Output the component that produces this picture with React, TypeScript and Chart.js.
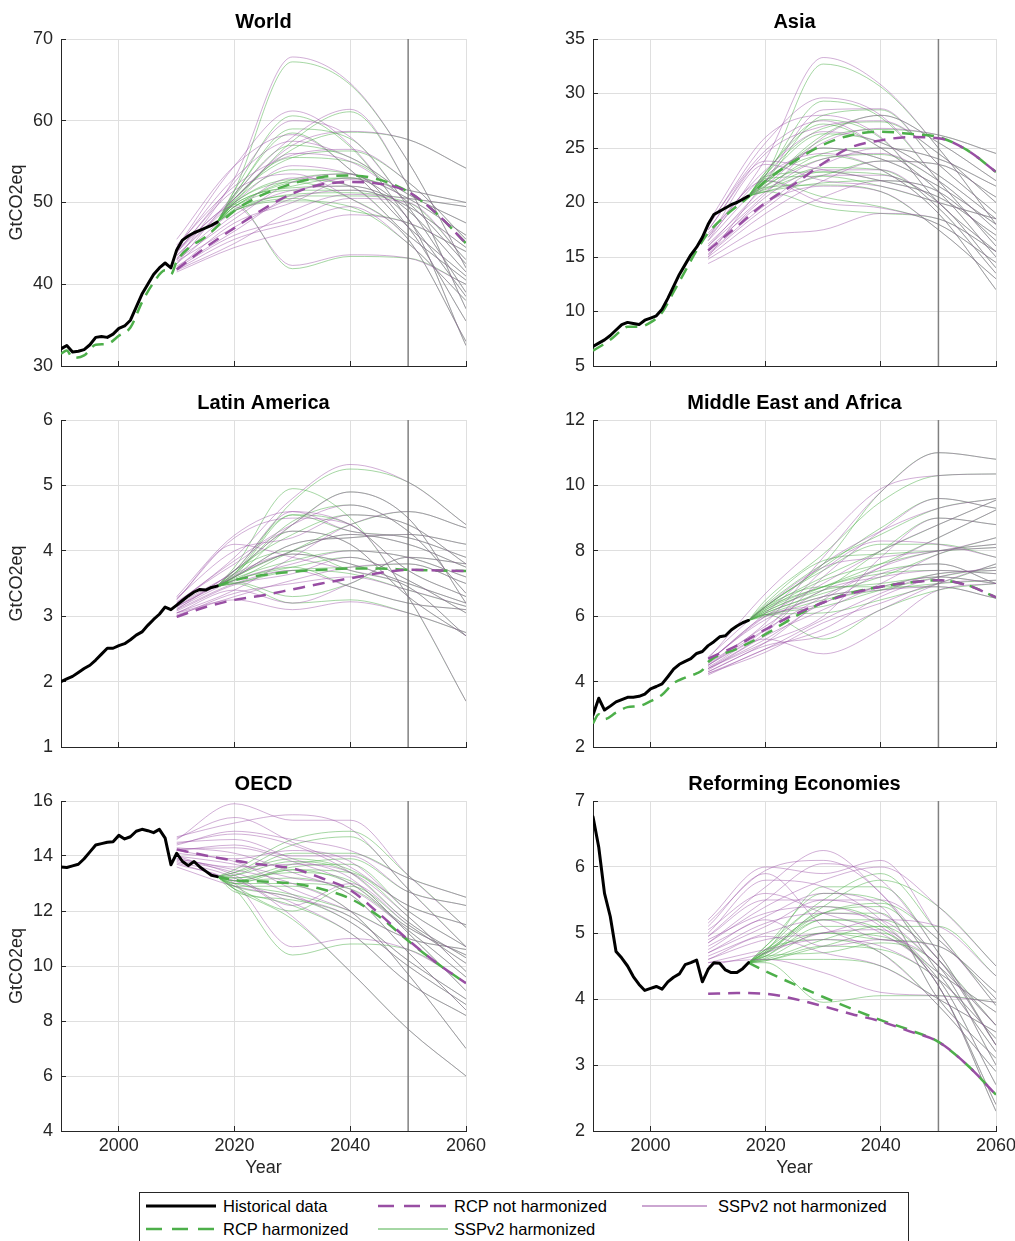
import React, { useEffect, useRef } from "react";
import { Chart, registerables } from "chart.js";

Chart.register(...registerables);

const FONT = '"Liberation Sans", Arial, Helvetica, sans-serif';
const PURPLE = "#984ea3";
const GREEN = "#4daf4a";
const PURPLE_T = "rgba(152,78,163,0.45)";
const GREEN_T = "rgba(77,175,74,0.5)";
const AXIS = "#262626";
const GRID = "#dfdfdf";
const VLINE = "#808080";

// ---------- shared axes ----------
const histYears = [1990, 1991, 1992, 1993, 1994, 1995, 1996, 1997, 1998, 1999, 2000, 2001, 2002, 2003, 2004, 2005, 2006, 2007, 2008, 2009, 2010, 2011, 2012, 2013, 2014, 2015, 2016, 2017];
const rcpRawYears = [2010, 2015, 2020, 2025, 2030, 2035, 2040, 2045, 2050, 2055, 2060];
const sspRawYears = [2010, 2020, 2030, 2040, 2050, 2060];
const sspHarmYears = [2017, 2020, 2030, 2040, 2050, 2060];
const xTicks = [2000, 2020, 2040, 2060];
const xMin = 1990;
const xMax = 2060;
const markerYear = 2050;

// ---------- World ----------
const worldTicks = [30, 40, 50, 60, 70];
const worldHist = [32.1, 32.5, 31.7, 31.8, 32.0, 32.6, 33.5, 33.6, 33.5, 33.9, 34.6, 34.9, 35.6, 37.2, 38.8, 40.0, 41.2, 42.0, 42.6, 42.0, 44.2, 45.4, 45.9, 46.3, 46.6, 46.9, 47.2, 47.6];
const worldRcpHarmYears = [1990, 1991, 1992, 1994, 1996, 1998, 2000, 2002, 2004, 2006, 2008, 2009, 2010, 2012, 2015, 2020, 2025, 2030, 2035, 2040, 2045, 2050, 2055, 2060];
const worldRcpHarm = [31.5, 31.9, 31.0, 31.3, 32.6, 32.7, 33.7, 34.7, 37.8, 40.2, 41.7, 41.2, 42.8, 44.4, 45.8, 49.0, 51.0, 52.3, 53.1, 53.3, 52.8, 51.3, 48.6, 45.0];
const worldRcpRaw = [41.8, 44.5, 46.9, 49.2, 51.1, 52.2, 52.5, 52.3, 51.3, 48.6, 45.0];
const worldSspRaw = [
  [43.0, 53.0, 67.8, 64.6, 55.0, 42.0],
  [44.0, 49.5, 42.3, 43.6, 43.2, 40.0],
  [44.5, 54.5, 61.2, 57.0, 48.0, 38.5],
  [42.5, 51.0, 58.0, 61.4, 52.0, 37.0],
  [43.5, 50.5, 57.0, 58.7, 57.7, 54.2],
  [45.5, 54.5, 58.3, 54.0, 47.0, 41.0],
  [42.0, 47.5, 50.0, 52.8, 51.5, 50.0],
  [41.7, 45.0, 49.0, 51.0, 50.5, 49.5],
  [44.8, 52.0, 55.8, 56.5, 52.5, 45.5],
  [43.0, 48.0, 52.5, 53.5, 47.0, 35.5],
  [42.2, 46.5, 51.0, 53.0, 49.0, 41.5],
  [44.0, 51.5, 53.5, 50.5, 45.5, 33.0],
  [43.2, 49.0, 53.0, 52.0, 46.0, 40.5],
  [41.5, 44.5, 46.5, 48.5, 47.5, 44.0],
  [44.2, 50.5, 56.0, 55.0, 50.0, 42.5],
  [42.8, 47.0, 50.5, 51.5, 48.0, 32.5],
  [43.8, 52.5, 60.0, 58.0, 49.5, 39.0],
  [42.0, 46.0, 48.0, 50.5, 50.0, 43.0],
  [43.5, 50.0, 54.5, 53.5, 50.5, 46.0],
  [42.5, 48.5, 51.5, 52.0, 49.5, 44.5],
  [44.5, 53.0, 57.5, 55.5, 51.0, 47.5],
  [41.8, 45.5, 47.5, 49.5, 45.0, 38.0],
];
const worldSspHarm = [
  [51.5, 67.2, 64.4],
  [49.8, 41.9, 43.4],
  [51.5, 60.6, 56.8],
  [50.0, 57.5, 61.1],
  [50.3, 56.5, 58.6],
  [51.0, 58.5, 54.0],
  [49.8, 52.0, 53.0],
  [49.0, 51.0, 51.2],
  [50.5, 55.5, 56.3],
  [49.5, 52.8, 53.5],
  [49.5, 52.5, 53.0],
  [50.0, 52.5, 50.5],
  [50.0, 52.8, 52.0],
  [49.0, 50.5, 49.0],
  [50.5, 55.5, 55.0],
  [49.5, 51.5, 51.5],
  [51.0, 59.0, 57.8],
  [49.2, 50.8, 50.8],
  [50.2, 54.0, 53.5],
  [49.8, 51.8, 52.0],
  [50.8, 57.0, 55.5],
  [49.0, 50.2, 49.5],
];

// ---------- Asia ----------
const asiaTicks = [5, 10, 15, 20, 25, 30, 35];
const asiaHist = [6.8, 7.1, 7.4, 7.8, 8.3, 8.8, 9.0, 8.9, 8.8, 9.2, 9.4, 9.6, 10.2, 11.2, 12.3, 13.4, 14.3, 15.2, 15.9, 16.8, 18.0, 18.9, 19.2, 19.5, 19.8, 20.0, 20.3, 20.6];
const asiaRcpHarmYears = [1990, 1993, 1995, 1996, 1998, 2000, 2002, 2004, 2006, 2008, 2010, 2013, 2017, 2020, 2025, 2030, 2035, 2040, 2045, 2050, 2055, 2060];
const asiaRcpHarm = [6.4, 7.4, 8.3, 8.6, 8.6, 9.0, 9.9, 11.8, 13.7, 15.6, 17.2, 18.8, 20.5, 22.0, 23.8, 25.3, 26.2, 26.5, 26.3, 26.0, 24.8, 22.8];
const asiaRcpRaw = [15.6, 17.8, 20.0, 21.7, 23.6, 25.1, 25.7, 26.0, 25.9, 24.8, 22.8];
const asiaSspRaw = [
  [16.5, 24.0, 33.3, 30.8, 25.0, 18.0],
  [17.8, 25.5, 29.6, 28.0, 22.0, 16.0],
  [15.0, 22.0, 28.5, 28.6, 23.5, 19.0],
  [18.0, 24.8, 27.5, 25.0, 21.0, 15.0],
  [16.0, 21.5, 25.5, 26.8, 26.2, 24.5],
  [17.0, 23.0, 26.5, 25.5, 22.5, 18.5],
  [15.5, 20.5, 23.5, 25.0, 24.0, 21.5],
  [14.4, 16.9, 17.5, 19.0, 18.5, 15.5],
  [15.2, 19.5, 22.5, 22.5, 20.0, 14.0],
  [16.8, 22.5, 24.5, 23.0, 19.0, 12.0],
  [17.5, 23.8, 23.0, 22.0, 20.5, 17.0],
  [15.8, 20.0, 21.5, 21.0, 17.5, 13.0],
  [16.2, 21.0, 24.0, 24.5, 22.0, 17.5],
  [18.2, 26.0, 28.0, 26.0, 20.0, 15.5],
  [15.0, 19.0, 22.0, 23.8, 23.5, 20.5],
  [17.2, 22.0, 20.0, 19.5, 18.0, 14.5],
  [16.0, 20.8, 26.0, 28.0, 25.5, 22.0],
  [14.8, 18.0, 20.5, 22.0, 21.0, 16.5],
  [16.5, 22.0, 25.0, 24.0, 21.5, 18.0],
  [17.5, 24.5, 27.0, 27.5, 24.5, 20.0],
  [15.3, 19.8, 23.0, 23.0, 19.5, 13.5],
  [16.8, 23.5, 22.0, 21.5, 20.0, 18.5],
];
const asiaSspHarm = [
  [22.5, 32.7, 30.6],
  [22.5, 29.3, 27.8],
  [22.0, 28.0, 28.5],
  [22.8, 27.2, 25.0],
  [21.8, 25.8, 26.7],
  [22.3, 26.3, 25.5],
  [21.5, 24.5, 25.0],
  [21.0, 19.5, 19.0],
  [21.2, 22.8, 22.6],
  [22.0, 24.3, 23.0],
  [22.4, 22.8, 22.0],
  [21.4, 21.6, 21.0],
  [21.6, 24.0, 24.4],
  [22.8, 27.6, 25.9],
  [21.0, 22.5, 23.8],
  [22.0, 20.5, 19.6],
  [21.8, 26.2, 28.0],
  [21.0, 21.8, 22.0],
  [22.0, 25.0, 24.0],
  [22.6, 26.8, 27.4],
  [21.3, 23.2, 23.0],
  [22.2, 22.4, 21.5],
];

// ---------- Latin America ----------
const latamTicks = [1, 2, 3, 4, 5, 6];
const latamHist = [2.0, 2.04, 2.08, 2.14, 2.2, 2.25, 2.33, 2.42, 2.51, 2.51, 2.55, 2.58, 2.64, 2.71, 2.76, 2.86, 2.95, 3.03, 3.14, 3.1, 3.17, 3.24, 3.31, 3.37, 3.41, 3.4, 3.44, 3.46];
const latamRcpHarmYears = [2017, 2020, 2025, 2030, 2035, 2040, 2045, 2050, 2055, 2060];
const latamRcpHarm = [3.46, 3.55, 3.63, 3.68, 3.71, 3.73, 3.73, 3.71, 3.7, 3.69];
const latamRcpRaw = [2.99, 3.14, 3.25, 3.32, 3.41, 3.5, 3.58, 3.66, 3.71, 3.7, 3.69];
const latamSspRaw = [
  [3.2, 3.9, 4.8, 5.32, 5.05, 4.4],
  [3.25, 4.2, 4.5, 4.4, 3.3, 1.7],
  [3.1, 3.7, 4.4, 4.9, 4.5, 3.2],
  [3.3, 4.24, 4.6, 4.3, 4.2, 3.9],
  [3.05, 3.4, 3.9, 4.4, 4.6, 4.35],
  [3.15, 3.6, 4.1, 4.2, 4.25, 4.1],
  [3.0, 3.35, 3.5, 3.6, 3.4, 3.15],
  [3.05, 3.25, 3.1, 3.22, 3.05, 2.75],
  [3.12, 3.55, 3.8, 4.0, 3.9, 3.6],
  [3.22, 3.8, 4.3, 4.1, 3.3, 2.7],
  [3.02, 3.3, 3.55, 3.75, 3.8, 3.5],
  [3.18, 3.65, 3.95, 3.8, 3.5, 3.2],
  [3.28, 4.0, 4.2, 4.55, 4.4, 3.8],
  [3.1, 3.5, 3.7, 3.45, 3.2, 3.1],
  [3.15, 3.7, 4.6, 4.4, 3.7, 3.3],
  [3.05, 3.4, 3.2, 3.5, 3.9, 3.8],
  [3.14, 3.62, 4.0, 4.25, 4.1, 3.75],
  [3.2, 3.85, 4.4, 4.7, 4.3, 3.35],
  [3.08, 3.48, 3.65, 3.9, 3.55, 3.05],
  [3.26, 4.1, 3.9, 3.7, 3.45, 2.7],
];
const latamSspHarm = [
  [3.65, 4.75, 5.25],
  [3.75, 4.95, 4.5],
  [3.6, 4.4, 4.9],
  [3.7, 4.55, 4.3],
  [3.55, 4.0, 4.4],
  [3.6, 4.1, 4.2],
  [3.5, 3.7, 3.65],
  [3.5, 3.2, 3.25],
  [3.58, 3.85, 4.0],
  [3.65, 4.3, 4.1],
  [3.5, 3.7, 3.75],
  [3.6, 3.95, 3.8],
  [3.7, 4.25, 4.55],
  [3.55, 3.75, 3.45],
  [3.62, 4.55, 4.4],
  [3.52, 3.3, 3.5],
  [3.6, 4.0, 4.25],
  [3.66, 4.45, 4.7],
  [3.56, 3.75, 3.9],
  [3.7, 4.0, 3.7],
];

// ---------- Middle East and Africa ----------
const meaTicks = [2, 4, 6, 8, 10, 12];
const meaHist = [2.98, 3.49, 3.13, 3.25, 3.38, 3.45, 3.52, 3.52, 3.55, 3.62, 3.78, 3.85, 3.93, 4.15, 4.38, 4.53, 4.62, 4.7, 4.86, 4.92, 5.1, 5.22, 5.37, 5.4, 5.58, 5.7, 5.8, 5.87];
const meaRcpHarmYears = [1990, 1991, 1992, 1994, 1996, 1998, 2000, 2002, 2004, 2006, 2008, 2009, 2010, 2015, 2020, 2025, 2030, 2035, 2040, 2045, 2050, 2055, 2060];
const meaRcpHarm = [2.72, 3.0, 2.85, 3.05, 3.22, 3.25, 3.4, 3.6, 3.95, 4.12, 4.25, 4.35, 4.6, 5.0, 5.45, 5.98, 6.42, 6.72, 6.9, 7.03, 7.1, 6.95, 6.58];
const meaRcpRaw = [4.7, 5.1, 5.6, 6.05, 6.42, 6.7, 6.9, 7.03, 7.1, 6.95, 6.58];
const meaSspRaw = [
  [4.5, 5.8, 7.8, 9.8, 11.0, 10.8],
  [4.7, 6.7, 8.3, 9.9, 10.3, 10.35],
  [4.4, 5.5, 7.2, 8.6, 9.6, 9.3],
  [4.6, 6.0, 7.0, 8.0, 8.8, 9.55],
  [4.3, 5.2, 6.5, 7.5, 8.4, 9.25],
  [4.75, 6.3, 7.5, 7.8, 8.0, 8.1],
  [4.2, 5.0, 5.6, 6.6, 7.2, 7.5],
  [4.45, 5.3, 4.85, 5.6, 6.8, 7.0],
  [4.55, 5.7, 6.8, 7.2, 7.4, 7.3],
  [4.35, 5.4, 6.2, 7.0, 7.9, 8.4],
  [4.65, 5.9, 6.6, 6.8, 6.9, 6.55],
  [4.25, 4.9, 5.8, 6.4, 7.0, 7.1],
  [4.5, 5.6, 7.4, 8.3, 8.2, 7.8],
  [4.4, 5.2, 6.0, 7.8, 9.0, 8.8],
  [4.6, 6.0, 6.4, 7.3, 7.6, 7.0],
  [4.3, 5.1, 5.4, 6.2, 7.0, 7.6],
  [4.5, 5.6, 6.6, 7.5, 8.0, 8.2],
  [4.4, 5.3, 6.4, 6.9, 7.2, 7.0],
  [4.6, 6.1, 7.6, 8.6, 9.3, 9.6],
  [4.25, 5.0, 5.9, 6.7, 7.3, 7.4],
];
const meaSspHarm = [
  [6.3, 7.6, 9.8],
  [6.5, 7.9, 9.5],
  [6.3, 7.5, 8.7],
  [6.25, 7.2, 8.0],
  [6.15, 6.9, 7.6],
  [6.4, 7.7, 7.9],
  [6.05, 6.3, 6.8],
  [6.05, 5.3, 6.2],
  [6.2, 6.9, 7.3],
  [6.1, 6.7, 7.2],
  [6.3, 6.9, 6.9],
  [6.0, 6.5, 6.8],
  [6.3, 7.4, 8.2],
  [6.1, 6.8, 8.0],
  [6.25, 6.9, 7.4],
  [6.05, 6.1, 6.5],
  [6.2, 7.1, 7.6],
  [6.15, 6.8, 7.0],
  [6.35, 7.6, 8.5],
  [6.05, 6.6, 6.9],
];

// ---------- OECD ----------
const oecdTicks = [4, 6, 8, 10, 12, 14, 16];
const oecdHist = [13.6, 13.58, 13.64, 13.7, 13.9, 14.15, 14.4, 14.45, 14.5, 14.52, 14.75, 14.62, 14.7, 14.9, 14.97, 14.92, 14.85, 14.97, 14.65, 13.68, 14.1, 13.8, 13.65, 13.8, 13.6, 13.45, 13.3, 13.25];
const oecdRcpHarmYears = [2017, 2020, 2025, 2030, 2035, 2040, 2045, 2050, 2055, 2060];
const oecdRcpHarm = [13.25, 13.12, 13.07, 13.0, 12.8, 12.45, 11.8, 10.92, 10.1, 9.37];
const oecdRcpRaw = [14.24, 14.02, 13.83, 13.68, 13.55, 13.2, 12.76, 11.9, 10.95, 10.1, 9.37];
const oecdSspRaw = [
  [14.6, 15.9, 15.3, 15.3, 13.3, 11.4],
  [14.7, 15.2, 15.5, 15.0, 12.8, 10.7],
  [14.4, 14.9, 14.6, 14.2, 13.2, 12.5],
  [14.2, 14.4, 14.0, 14.0, 12.7, 12.2],
  [13.9, 13.6, 13.7, 13.4, 11.8, 9.8],
  [14.0, 13.3, 12.2, 13.0, 11.5, 10.1],
  [13.7, 13.0, 10.7, 11.0, 10.6, 9.4],
  [14.1, 13.8, 12.8, 12.0, 11.0, 10.6],
  [13.8, 13.2, 11.8, 9.8, 7.7, 6.0],
  [14.3, 14.1, 13.4, 12.6, 10.5, 8.4],
  [13.6, 12.9, 12.5, 11.8, 10.2, 8.8],
  [14.5, 14.6, 13.9, 13.2, 11.2, 9.1],
  [13.9, 13.5, 13.0, 12.0, 9.7, 7.0],
  [14.2, 13.9, 14.2, 13.8, 12.0, 10.7],
  [13.75, 13.1, 12.3, 11.2, 9.4, 8.2],
  [14.65, 15.4, 14.5, 13.6, 12.2, 11.5],
  [14.0, 13.7, 13.2, 12.8, 11.3, 9.6],
  [14.45, 14.8, 14.4, 13.4, 11.6, 10.3],
  [13.85, 13.4, 12.6, 11.6, 10.0, 8.6],
  [14.25, 14.3, 13.8, 13.0, 11.4, 10.4],
];
const oecdSspHarm = [
  [13.5, 14.6, 14.9],
  [13.4, 14.4, 14.7],
  [13.3, 14.1, 14.1],
  [13.2, 13.7, 13.9],
  [13.0, 13.5, 13.4],
  [12.9, 12.0, 12.9],
  [12.8, 10.4, 10.8],
  [13.0, 12.6, 12.0],
  [12.8, 11.7, 9.8],
  [13.1, 13.2, 12.6],
  [12.7, 12.4, 11.8],
  [13.2, 13.4, 13.1],
  [12.9, 12.9, 12.0],
  [13.1, 13.6, 13.7],
  [12.8, 12.2, 11.2],
  [13.4, 13.9, 13.5],
  [13.0, 13.0, 12.8],
  [13.3, 13.8, 13.4],
  [12.9, 12.5, 11.6],
  [13.1, 13.5, 13.0],
];

// ---------- Reforming Economies ----------
const refTicks = [2, 3, 4, 5, 6, 7];
const refHist = [6.76, 6.3, 5.6, 5.25, 4.72, 4.62, 4.5, 4.34, 4.22, 4.13, 4.16, 4.19, 4.15, 4.26, 4.33, 4.38, 4.52, 4.55, 4.59, 4.26, 4.45, 4.55, 4.54, 4.44, 4.4, 4.4, 4.46, 4.55];
const refRcpHarmYears = [2017, 2020, 2025, 2030, 2035, 2040, 2045, 2050, 2055, 2060];
const refRcpHarm = [4.55, 4.42, 4.22, 4.03, 3.85, 3.68, 3.53, 3.35, 3.0, 2.55];
const refRcpRaw = [4.08, 4.09, 4.08, 4.0, 3.89, 3.77, 3.66, 3.51, 3.35, 3.0, 2.55];
const refSspRaw = [
  [4.95, 5.7, 6.25, 5.6, 4.6, 3.6],
  [5.2, 6.0, 5.9, 6.1, 5.0, 3.9],
  [4.85, 5.4, 5.8, 6.0, 5.4, 4.5],
  [4.7, 5.1, 5.5, 5.3, 4.6, 3.3],
  [5.05, 5.6, 5.3, 5.0, 4.3, 2.7],
  [4.6, 4.9, 5.0, 5.2, 5.1, 4.35],
  [4.75, 5.2, 4.8, 4.9, 4.5, 3.0],
  [4.55, 4.6, 4.4, 4.1, 4.05, 3.95],
  [4.9, 5.3, 5.4, 5.1, 4.2, 2.3],
  [4.65, 5.0, 5.2, 4.9, 4.8, 4.1],
  [5.1, 5.9, 5.1, 4.7, 3.9, 2.9],
  [4.8, 5.25, 5.6, 5.4, 4.0, 3.1],
  [4.5, 4.7, 5.0, 5.05, 4.4, 3.8],
  [5.0, 5.8, 5.7, 5.2, 4.2, 2.4],
  [4.6, 4.95, 4.7, 4.5, 4.0, 3.5],
  [4.85, 5.5, 6.05, 5.8, 4.7, 3.3],
  [4.7, 5.15, 5.3, 5.2, 4.5, 3.6],
  [4.95, 5.5, 5.5, 5.5, 4.9, 4.0],
  [4.55, 4.75, 4.9, 4.8, 4.3, 3.4],
  [5.15, 5.95, 6.1, 5.6, 4.4, 3.2],
];
const refSspHarm = [
  [4.75, 5.3, 5.4],
  [4.8, 5.5, 5.9],
  [4.7, 5.4, 5.8],
  [4.65, 5.2, 5.2],
  [4.7, 5.0, 4.95],
  [4.6, 4.9, 5.1],
  [4.65, 4.7, 4.85],
  [4.55, 3.95, 4.05],
  [4.7, 5.2, 5.05],
  [4.62, 5.0, 4.9],
  [4.75, 4.9, 4.7],
  [4.68, 5.3, 5.3],
  [4.58, 4.8, 5.0],
  [4.75, 5.4, 5.15],
  [4.6, 4.6, 4.5],
  [4.72, 5.7, 5.7],
  [4.65, 5.1, 5.1],
  [4.72, 5.3, 5.45],
  [4.58, 4.8, 4.75],
  [4.8, 5.6, 5.5],
];

type PanelData = {
  title: string;
  yTicks: number[];
  hist: number[];
  rcpHarmYears: number[];
  rcpHarm: number[];
  rcpRaw: number[];
  sspRaw: number[][];
  sspHarm: number[][];
};

const panels: PanelData[] = [
  { title: "World", yTicks: worldTicks, hist: worldHist, rcpHarmYears: worldRcpHarmYears, rcpHarm: worldRcpHarm, rcpRaw: worldRcpRaw, sspRaw: worldSspRaw, sspHarm: worldSspHarm },
  { title: "Asia", yTicks: asiaTicks, hist: asiaHist, rcpHarmYears: asiaRcpHarmYears, rcpHarm: asiaRcpHarm, rcpRaw: asiaRcpRaw, sspRaw: asiaSspRaw, sspHarm: asiaSspHarm },
  { title: "Latin America", yTicks: latamTicks, hist: latamHist, rcpHarmYears: latamRcpHarmYears, rcpHarm: latamRcpHarm, rcpRaw: latamRcpRaw, sspRaw: latamSspRaw, sspHarm: latamSspHarm },
  { title: "Middle East and Africa", yTicks: meaTicks, hist: meaHist, rcpHarmYears: meaRcpHarmYears, rcpHarm: meaRcpHarm, rcpRaw: meaRcpRaw, sspRaw: meaSspRaw, sspHarm: meaSspHarm },
  { title: "OECD", yTicks: oecdTicks, hist: oecdHist, rcpHarmYears: oecdRcpHarmYears, rcpHarm: oecdRcpHarm, rcpRaw: oecdRcpRaw, sspRaw: oecdSspRaw, sspHarm: oecdSspHarm },
  { title: "Reforming Economies", yTicks: refTicks, hist: refHist, rcpHarmYears: refRcpHarmYears, rcpHarm: refRcpHarm, rcpRaw: refRcpRaw, sspRaw: refSspRaw, sspHarm: refSspHarm },
];

const toXY = (xs: number[], ys: number[]) => xs.map((x, i) => ({ x, y: ys[i] }));

const inwardTicks = {
  id: "inwardTicks",
  beforeDatasetsDraw(chart: any) {
    const { ctx, chartArea, scales } = chart;
    ctx.save();
    ctx.strokeStyle = AXIS;
    ctx.lineWidth = 1;
    ctx.beginPath();
    scales.x.ticks.forEach((t: any) => {
      const x = Math.round(scales.x.getPixelForValue(t.value) - 0.5) + 0.5;
      ctx.moveTo(x, chartArea.bottom);
      ctx.lineTo(x, chartArea.bottom - 5);
    });
    scales.y.ticks.forEach((t: any) => {
      const y = Math.round(scales.y.getPixelForValue(t.value) - 0.5) + 0.5;
      ctx.moveTo(chartArea.left, y);
      ctx.lineTo(chartArea.left + 5, y);
    });
    ctx.stroke();
    ctx.restore();
  },
};

function PanelChart({ p, index }: { p: PanelData; index: number }) {
  const ref = useRef<HTMLCanvasElement | null>(null);
  const col = index % 2;
  const row = Math.floor(index / 2);
  const left = col === 0 ? 0 : 520;
  const width = col === 0 ? 500 : 495;
  const yAxisW = col === 0 ? 61 : 73;
  const padRight = col === 0 ? 34 : 19;
  const top = [0, 381, 762][row];
  const bottomRow = row === 2;
  const height = bottomRow ? 419 : 372;
  const padBottom = bottomRow ? 2 : 6;

  useEffect(() => {
    if (!ref.current) return;
    const yMin = p.yTicks[0];
    const yMax = p.yTicks[p.yTicks.length - 1];
    const histEnd = p.hist[p.hist.length - 1];
    const datasets: any[] = [];
    datasets.push({
      data: toXY(histYears, p.hist),
      borderColor: "#000",
      borderWidth: 3,
      borderJoinStyle: "round",
      borderCapStyle: "round",
    });
    datasets.push({
      data: toXY(rcpRawYears, p.rcpRaw),
      borderColor: PURPLE,
      borderWidth: 2.5,
      borderDash: [12, 8],
      cubicInterpolationMode: "monotone",
    });
    datasets.push({
      data: toXY(p.rcpHarmYears, p.rcpHarm),
      borderColor: GREEN,
      borderWidth: 2.5,
      borderDash: [12, 8],
      cubicInterpolationMode: "monotone",
    });
    p.sspRaw.forEach((r) => {
      datasets.push({
        data: toXY(sspRawYears, r),
        borderColor: PURPLE_T,
        borderWidth: 1,
        cubicInterpolationMode: "monotone",
      });
    });
    p.sspRaw.forEach((r, i) => {
      const h = p.sspHarm[i];
      datasets.push({
        data: toXY(sspHarmYears, [histEnd, h[0], h[1], h[2], r[4], r[5]]),
        borderColor: GREEN_T,
        borderWidth: 1,
        cubicInterpolationMode: "monotone",
      });
    });
    datasets.push({
      data: [
        { x: markerYear, y: yMin },
        { x: markerYear, y: yMax },
      ],
      borderColor: VLINE,
      borderWidth: 1.5,
    });

    const chart = new Chart(ref.current, {
      type: "line",
      data: { datasets },
      plugins: [inwardTicks],
      options: {
        responsive: false,
        animation: false,
        events: [],
        layout: { padding: { left: 0, right: padRight, top: 0, bottom: padBottom } },
        elements: { point: { radius: 0 }, line: { fill: false } },
        plugins: {
          legend: { display: false },
          tooltip: { enabled: false },
          title: {
            display: true,
            text: p.title,
            fullSize: false,
            color: "#000",
            font: { family: FONT, size: 20, weight: "bold" },
            padding: { top: 10, bottom: 5 },
          },
        },
        scales: {
          x: {
            type: "linear",
            min: xMin,
            max: xMax,
            afterBuildTicks: (s: any) => {
              s.ticks = xTicks.map((v) => ({ value: v }));
            },
            afterFit: (s: any) => {
              s.height = bottomRow ? 48 : 0;
              s.paddingLeft = 0;
              s.paddingRight = 0;
            },
            ticks: {
              display: bottomRow,
              padding: 4,
              color: AXIS,
              maxRotation: 0,
              autoSkip: false,
              font: { family: FONT, size: 18 },
              callback: (v: any) => String(v),
            },
            grid: { color: GRID, lineWidth: 1, drawTicks: false },
            border: { display: true, color: AXIS, width: 1 },
            title: {
              display: bottomRow,
              text: "Year",
              color: AXIS,
              font: { family: FONT, size: 18 },
              padding: { top: 0, bottom: 0 },
            },
          },
          y: {
            type: "linear",
            min: yMin,
            max: yMax,
            afterBuildTicks: (s: any) => {
              s.ticks = p.yTicks.map((v) => ({ value: v }));
            },
            afterFit: (s: any) => {
              s.width = yAxisW;
              s.paddingTop = 0;
              s.paddingBottom = 0;
            },
            ticks: {
              padding: 8,
              color: AXIS,
              autoSkip: false,
              font: { family: FONT, size: 18 },
              callback: (v: any) => String(v),
            },
            grid: { color: GRID, lineWidth: 1, drawTicks: false },
            border: { display: true, color: AXIS, width: 1 },
            title: {
              display: col === 0,
              text: "GtCO2eq",
              color: AXIS,
              font: { family: FONT, size: 18 },
              padding: { top: 6, bottom: 0 },
            },
          },
        },
      } as any,
    });
    return () => chart.destroy();
  }, []);

  return (
    <canvas
      ref={ref}
      width={width}
      height={height}
      style={{ position: "absolute", left, top, width, height }}
    />
  );
}

function LegendLine({ x1, x2, y, color, width, dash }: { x1: number; x2: number; y: number; color: string; width: number; dash?: string }) {
  return (
    <svg style={{ position: "absolute", left: 0, top: 0, overflow: "visible" }} width={1} height={1}>
      <line x1={x1} x2={x2} y1={y} y2={y} stroke={color} strokeWidth={width} strokeDasharray={dash} />
    </svg>
  );
}

function LegendText({ x, y, text }: { x: number; y: number; text: string }) {
  return (
    <div
      style={{
        position: "absolute",
        left: x,
        top: y - 11,
        height: 22,
        lineHeight: "22px",
        fontFamily: FONT,
        fontSize: 16.5,
        color: "#000",
        whiteSpace: "nowrap",
      }}
    >
      {text}
    </div>
  );
}

function Legend() {
  return (
    <div
      style={{
        position: "absolute",
        left: 139,
        top: 1192,
        width: 770,
        height: 70,
        border: `1px solid ${AXIS}`,
        background: "#fff",
        boxSizing: "border-box",
      }}
    >
      <LegendLine x1={6} x2={76} y={13} color="#000" width={3} />
      <LegendText x={83} y={13} text="Historical data" />
      <LegendLine x1={238} x2={308} y={13} color={PURPLE} width={2.5} dash="16 10" />
      <LegendText x={314} y={13} text="RCP not harmonized" />
      <LegendLine x1={502} x2={567} y={13} color="rgba(152,78,163,0.5)" width={2} />
      <LegendText x={578} y={13} text="SSPv2 not harmonized" />
      <LegendLine x1={6} x2={76} y={36} color={GREEN} width={2.5} dash="16 10" />
      <LegendText x={83} y={36} text="RCP harmonized" />
      <LegendLine x1={238} x2={308} y={36} color={GREEN} width={1} />
      <LegendText x={314} y={36} text="SSPv2 harmonized" />
    </div>
  );
}

export default function App() {
  return (
    <div
      style={{
        position: "absolute",
        left: 0,
        top: 0,
        width: 1015,
        height: 1241,
        overflow: "hidden",
        background: "#fff",
      }}
    >
      {panels.map((p, i) => (
        <PanelChart key={p.title} p={p} index={i} />
      ))}
      <Legend />
    </div>
  );
}
